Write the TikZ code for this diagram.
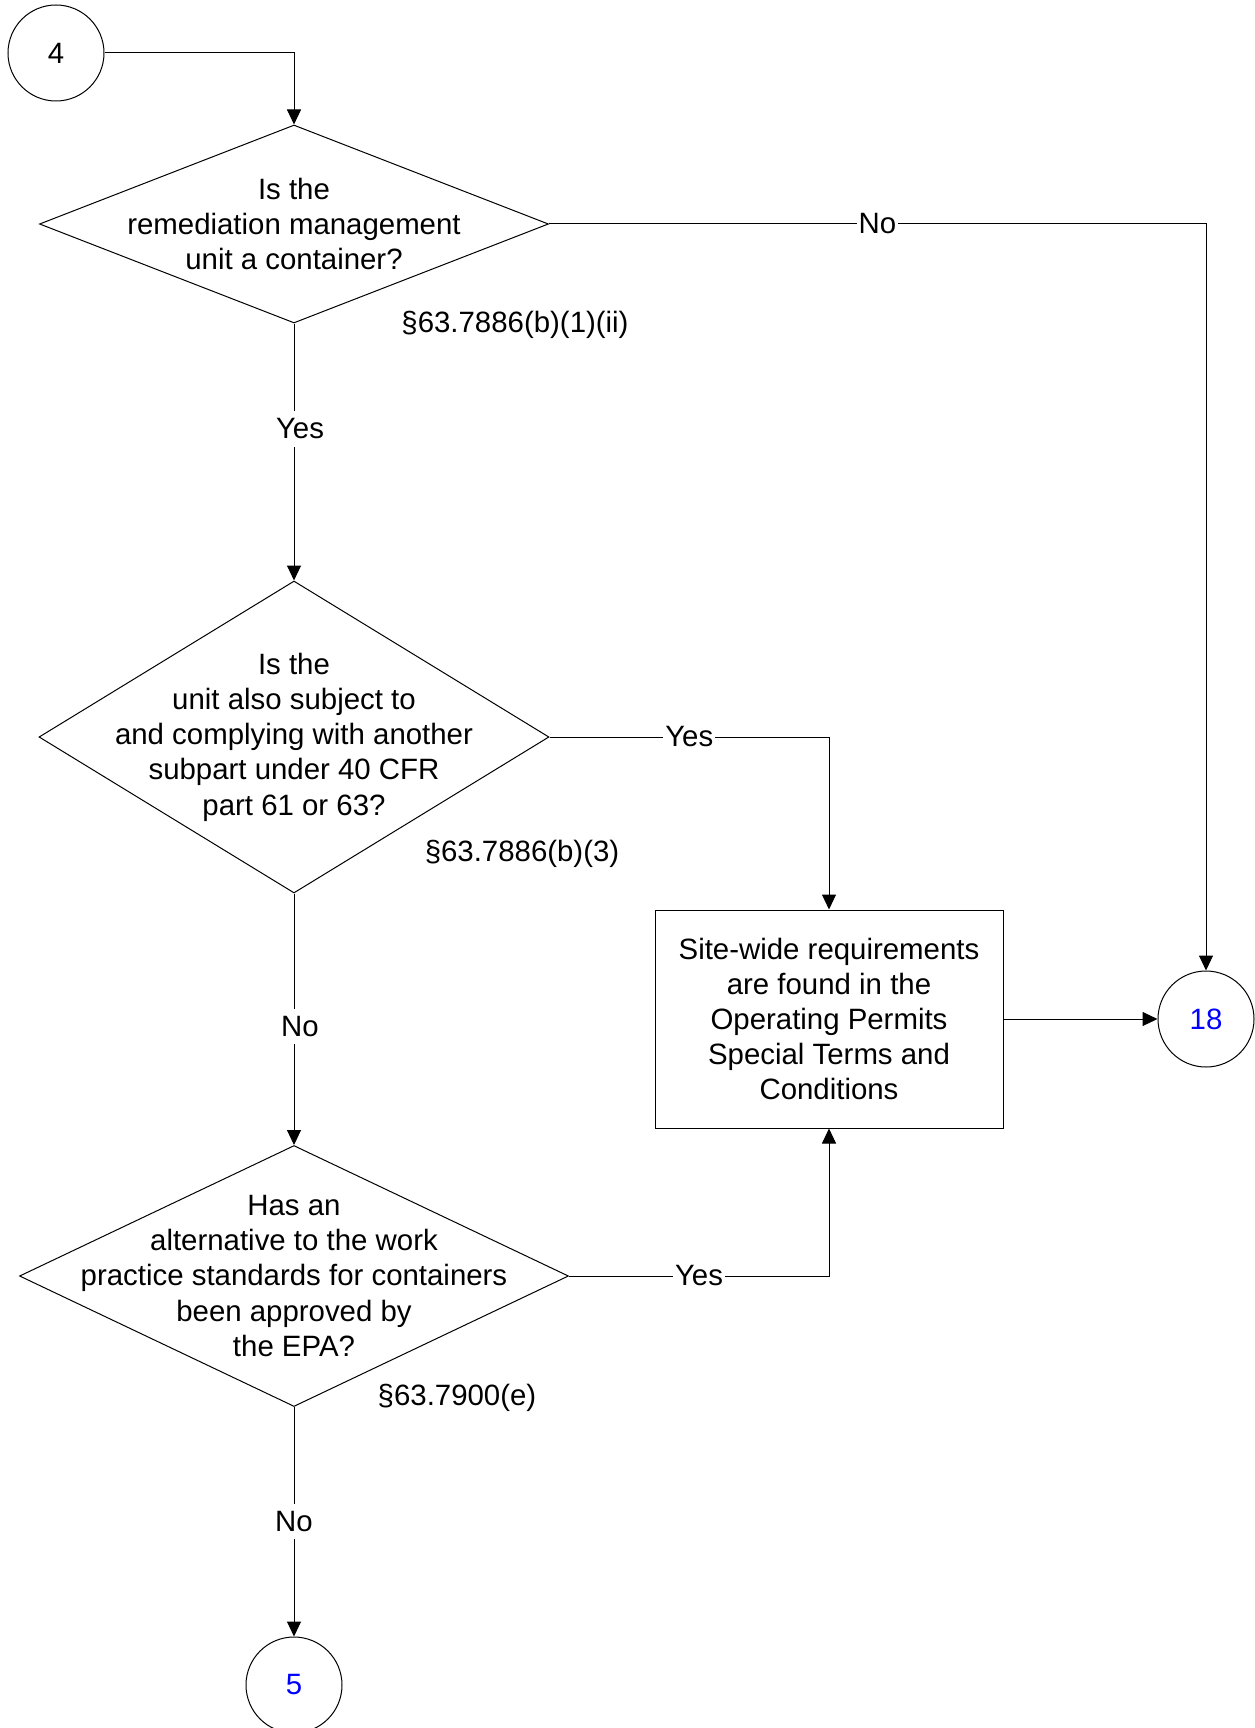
\documentclass[tikz,border=0pt]{standalone}
\usepackage{fontspec}
\setmainfont{Liberation Sans}
\usetikzlibrary{shapes.geometric,arrows.meta,positioning}
\tikzset{
decision/.style={
  diamond,
  draw,
  inner sep=0pt
  },
block/.style={
  rectangle,
  draw,
  inner sep=0pt,
  minimum width=174pt,
  minimum height=109pt
  },
offpage/.style={
  circle,
  draw,
  minimum size=48pt,
  inner sep=0pt
  },
qtext/.style={
  align=center,
  font=\fontsize{14.7}{17.6}\selectfont
  },
lbl/.style={
  fill=white,
  inner xsep=1pt,
  inner ysep=3.7pt,
  font=\fontsize{14.7}{17.6}\selectfont
  },
flow/.style={
  draw,
  line width=0.5pt,
  -{Triangle[length=7.5pt,width=7pt]}
  }
}

\begin{document}
\begin{tikzpicture}[x=0.5pt,y=-0.5pt,line width=0.5pt]
\useasboundingbox (0,0) rectangle (1254,1728);

\node[offpage,qtext] (c4) at (56,53) {4};

\node[decision,minimum width=254.5pt,minimum height=99pt] (d1) at (294,224) {};
\node[qtext] (d1txt) at (d1) {Is the\\remediation management\\unit a container?};
\node[lbl,fill=none] (ref1) at (515,325) {\S63.7886(b)(1)(ii)};

\node[decision,minimum width=255pt,minimum height=156pt] (d2) at (294,737) {};
\node[qtext] (d2txt) at (d2) {Is the\\unit also subject to\\and complying with another\\subpart under 40 CFR\\part 61 or 63?};
\node[lbl,fill=none] (ref2) at (522,854) {\S63.7886(b)(3)};

\node[decision,minimum width=274.5pt,minimum height=130.5pt] (d3) at (294,1276) {};
\node[qtext] (d3txt) at (d3) {Has an\\alternative to the work\\practice standards for containers\\been approved by\\the EPA?};
\node[lbl,fill=none] (ref3) at (457,1398) {\S63.7900(e)};

\node[block,qtext] (box) at (829,1019) {Site-wide requirements\\are found in the\\Operating Permits\\Special Terms and\\Conditions};

\node[offpage,qtext,text=blue] (c18) at (1206,1019) {18};
\node[offpage,qtext,text=blue] (c5) at (294,1685) {5};

% connectors
\draw[flow] (c4.east) -| (d1.north);
\draw[flow] (d1.east) -| node[lbl,pos=0.25] {No} (c18.north);
\draw[flow] (d1.south) -- node[lbl,pos=0.41,xshift=3pt] {Yes} (d2.north);
\draw[flow] (d2.east) -| node[lbl,pos=0.25] {Yes} (box.north);
\draw[flow] (d2.south) -- node[lbl,pos=0.53,xshift=3pt] {No} (d3.north);
\draw[flow] (d3.east) -| node[lbl,pos=0.25] {Yes} (box.south);
\draw[flow] (box.east) -- (c18.west);
\draw[flow] (d3.south) -- node[lbl] {No} (c5.north);

\end{tikzpicture}
\end{document}
